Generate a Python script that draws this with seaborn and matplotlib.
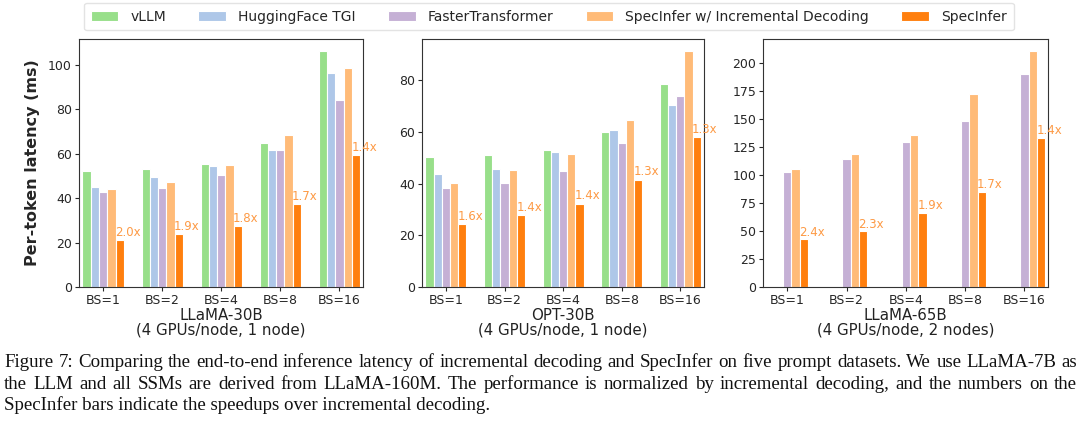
import numpy as np
import pandas as pd
import matplotlib
matplotlib.use('Agg')
import matplotlib.pyplot as plt
import seaborn as sns

# dados (latência por token, ms)
tamanhos = ['BS=1', 'BS=2', 'BS=4', 'BS=8', 'BS=16']
sistemas = ['vLLM', 'HuggingFace TGI', 'FasterTransformer',
            'SpecInfer w/ Incremental Decoding', 'SpecInfer']
cores = ['#98df8a', '#aec7e8', '#c5b0d5', '#ffbb78', '#ff7f0e']

# LLaMA-30B
llama30_vllm = [52.2, 53.1, 55.2, 64.7, 106.3]
llama30_tgi = [45.2, 49.5, 54.4, 61.5, 96.5]
llama30_ft = [42.8, 44.6, 50.2, 61.5, 84.0]
llama30_inc = [43.9, 47.2, 54.9, 68.5, 98.5]
llama30_spec = [21.0, 23.7, 27.5, 37.3, 59.4]
llama30_speedup = ['2.0x', '1.9x', '1.8x', '1.7x', '1.4x']

# OPT-30B
opt30_vllm = [50.4, 51.1, 52.9, 60.1, 78.5]
opt30_tgi = [43.7, 45.8, 52.1, 60.9, 70.3]
opt30_ft = [38.3, 40.1, 45.0, 55.6, 74.1]
opt30_inc = [40.2, 45.2, 51.3, 64.7, 91.4]
opt30_spec = [24.3, 27.7, 32.3, 41.5, 58.0]
opt30_speedup = ['1.6x', '1.4x', '1.4x', '1.3x', '1.3x']

# LLaMA-65B (sem vLLM e TGI)
llama65_vllm = [np.nan] * 5
llama65_tgi = [np.nan] * 5
llama65_ft = [102.7, 114.0, 129.0, 147.8, 189.6]
llama65_inc = [105.7, 118.5, 135.8, 172.2, 210.7]
llama65_spec = [42.4, 49.9, 66.3, 85.1, 133.1]
llama65_speedup = ['2.4x', '2.3x', '1.9x', '1.7x', '1.4x']

paineis = [
    ('LLaMA-30B\n(4 GPUs/node, 1 node)',
     [llama30_vllm, llama30_tgi, llama30_ft, llama30_inc, llama30_spec],
     llama30_speedup, np.arange(0, 101, 20)),
    ('OPT-30B\n(4 GPUs/node, 1 node)',
     [opt30_vllm, opt30_tgi, opt30_ft, opt30_inc, opt30_spec],
     opt30_speedup, np.arange(0, 81, 20)),
    ('LLaMA-65B\n(4 GPUs/node, 2 nodes)',
     [llama65_vllm, llama65_tgi, llama65_ft, llama65_inc, llama65_spec],
     llama65_speedup, np.arange(0, 201, 25)),
]

sns.set_style('ticks')
plt.rcParams['font.family'] = ['DejaVu Sans']

fig = plt.figure(figsize=(10.8, 4.29), dpi=100)
posicoes = [[0.0731, 0.331, 0.263, 0.578],
            [0.3907, 0.331, 0.261, 0.578],
            [0.7065, 0.331, 0.264, 0.578]]

largura = 0.70
for i, (titulo, series, speedup, yticks) in enumerate(paineis):
    ax = fig.add_axes(posicoes[i])
    linhas = []
    for s, valores in zip(sistemas, series):
        for t, v in zip(tamanhos, valores):
            linhas.append({'bs': t, 'sistema': s, 'lat': v})
    df = pd.DataFrame(linhas).dropna()
    sns.barplot(data=df, x='bs', y='lat', hue='sistema', order=tamanhos,
                hue_order=sistemas, palette=cores, width=largura,
                edgecolor='white', linewidth=0.8, saturation=1, ax=ax)
    # anotações de speedup sobre as barras SpecInfer
    passo = largura / 5
    for k, txt in enumerate(speedup):
        xb = k + 2 * passo - passo / 2
        ax.text(xb - 0.01, series[4][k] + 0.5, txt, ha='left', va='bottom',
                fontsize=8.5, color='#fd9a45', clip_on=False)
    ax.set_xlim(-0.41, 4.40)
    ax.set_yticks(yticks)
    top = np.nanmax(np.array(series, dtype=float)) * 1.05
    ax.set_ylim(0, top)
    ax.set_xlabel(titulo, fontsize=10.8, labelpad=1, color='#222222',
                  linespacing=0.95)
    if i == 0:
        ax.set_ylabel('Per-token latency (ms)', fontsize=11.5,
                      fontweight='bold', labelpad=6)
    else:
        ax.set_ylabel('')
    ax.tick_params(labelsize=9, length=3, pad=2)
    for sp in ax.spines.values():
        sp.set_color('#333333')
        sp.set_linewidth(0.8)
    if i == 0:
        handles, labels = ax.get_legend_handles_labels()
    ax.get_legend().remove()

fig.legend(handles, labels, loc='center', bbox_to_anchor=(0.508, 0.9615),
           ncol=5, fontsize=10, frameon=True, edgecolor='#dddddd',
           handlelength=2.0, columnspacing=2.33, handletextpad=0.85,
           borderpad=0.5)

# legenda da figura (texto justificado nas duas primeiras linhas)
legenda = [
    'Figure 7: Comparing the end-to-end inference latency of incremental decoding and SpecInfer on five prompt datasets. We use LLaMA-7B as',
    'the LLM and all SSMs are derived from LLaMA-160M. The performance is normalized by incremental decoding, and the numbers on the',
    'SpecInfer bars indicate the speedups over incremental decoding.',
]
ys = [367, 389, 410]
x0, x1 = 4, 1077
renderer = fig.canvas.get_renderer()
for n, (linha, y) in enumerate(zip(legenda, ys)):
    yf = 1 - y / 429
    if n == len(legenda) - 1:
        fig.text(x0 / 1080, yf, linha, ha='left', va='baseline',
                 fontsize=13.6, family=['Liberation Serif'], color='#111111')
        continue
    palavras = linha.split(' ')
    objs = [fig.text(0, yf, p, ha='left', va='baseline', fontsize=13.6,
                     family=['Liberation Serif'], color='#111111')
            for p in palavras]
    larguras = [o.get_window_extent(renderer).width for o in objs]
    gap = (x1 - x0 - sum(larguras)) / (len(palavras) - 1)
    x = x0
    for o, w in zip(objs, larguras):
        o.set_x(x / 1080)
        x += w + gap

fig.savefig('out.png', dpi=100)
